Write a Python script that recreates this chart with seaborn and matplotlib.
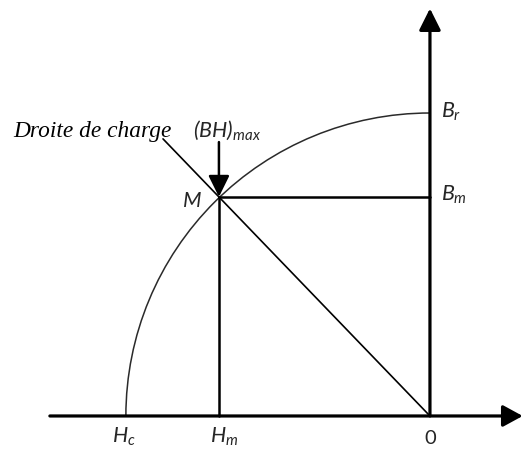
import matplotlib
matplotlib.use("Agg")
import matplotlib.pyplot as plt
from matplotlib.patches import Arc
import seaborn as sns

# Demagnetisation curve values (normalised: |Hc| = 1, Br = 1)
H_c = -1.0
B_r = 1.0
H_m = -0.694
B_m = 0.723

axis_labels = ["$H_c$", "$H_m$", "0", "$B_r$", "$B_m$"]
point_label = "$M$"
bh_label = "$(BH)_{max}$"
load_label = "Droite de charge"

sns.set_theme(style="white")
plt.rcParams["mathtext.fontset"] = "custom"
plt.rcParams["mathtext.it"] = "Lato:italic"
plt.rcParams["mathtext.rm"] = "Lato:italic"
plt.rcParams["mathtext.default"] = "it"
plt.rcParams["font.family"] = ["Lato", "DejaVu Sans"]

fig = plt.figure(figsize=(5.23, 4.49), dpi=100)
ax = fig.add_axes([0, 0, 1, 1])
ax.set_xlim(-1.414, 0.306)
ax.set_ylim(-0.109, 1.373)
ax.axis("off")

# Coordinate axes with arrow heads
ax.annotate("", xy=(0.305, 0), xytext=(-1.25, 0),
            arrowprops=dict(arrowstyle="-|>,head_length=0.55,head_width=0.3",
                            mutation_scale=22, lw=2.3, color="black",
                            shrinkA=0, shrinkB=0))
ax.annotate("", xy=(0, 1.345), xytext=(0, 0),
            arrowprops=dict(arrowstyle="-|>,head_length=0.6,head_width=0.3",
                            mutation_scale=22, lw=2.3, color="black",
                            shrinkA=0, shrinkB=0))

# B(H) curve: quarter ellipse from Hc to Br
ax.add_patch(Arc((0, 0), width=2 * abs(H_c), height=2 * B_r,
                 theta1=90, theta2=180, color="#2a2a2a", lw=1.1))

# Working point projections
sns.lineplot(x=[H_m, H_m], y=[0, B_m], estimator=None, sort=False,
             color="black", lw=1.8, ax=ax)
sns.lineplot(x=[H_m, 0], y=[B_m, B_m], estimator=None, sort=False,
             color="black", lw=1.8, ax=ax)

# Load line through the origin and M
load_ext = 1.265
sns.lineplot(x=[0, load_ext * H_m], y=[0, load_ext * B_m], estimator=None,
             sort=False, color="black", lw=1.2, ax=ax)

# (BH)max arrow pointing at M
ax.annotate("", xy=(H_m, B_m), xytext=(H_m, B_m + 0.181),
            arrowprops=dict(arrowstyle="-|>,head_length=0.65,head_width=0.32",
                            mutation_scale=20, lw=1.8, color="black",
                            shrinkA=0, shrinkB=0))

fs = 15.5
ax.text(H_c - 0.046, -0.089, axis_labels[0], fontsize=fs, ha="left", va="baseline")
ax.text(H_m - 0.030, -0.089, axis_labels[1], fontsize=fs, ha="left", va="baseline")
ax.text(0, -0.092, axis_labels[2], fontsize=fs - 1, ha="center", va="baseline")
ax.text(0.036, B_r - 0.017, axis_labels[3], fontsize=fs, ha="left", va="baseline")
ax.text(0.036, B_m - 0.013, axis_labels[4], fontsize=fs, ha="left", va="baseline")
ax.text(H_m - 0.122, B_m - 0.033, point_label, fontsize=fs, ha="left", va="baseline")
ax.text(-0.78, 0.921, bh_label, fontsize=fs, ha="left", va="baseline")
ax.text(-1.372, 0.921, load_label, fontsize=16.8, ha="left", va="baseline",
        family="Liberation Serif", style="italic", color="black")

fig.savefig("out.png", dpi=100)
